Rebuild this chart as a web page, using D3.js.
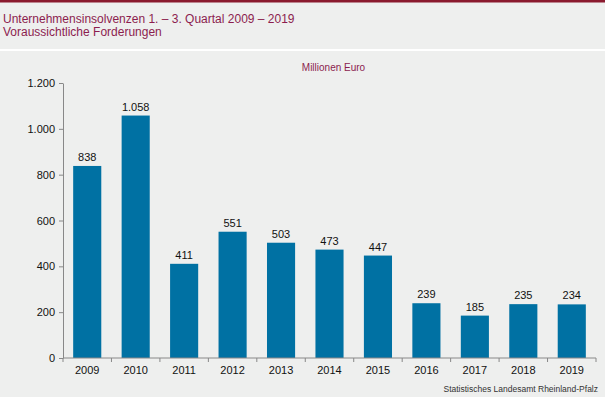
<!DOCTYPE html>
<html>
<head>
<meta charset="utf-8">
<script src="https://cdn.jsdelivr.net/npm/d3@7"></script>
<style>
  body { margin: 0; background: #eeefee; }
  svg { display: block; font-family: "Liberation Sans", Arial, sans-serif; }
</style>
</head>
<body>
<div id="chart"></div>
<script>
// ------------------------------------------
//  Data
// ------------------------------------------
const years = ['2009', '2010', '2011', '2012', '2013', '2014', '2015', '2016', '2017', '2018', '2019']
const claims = [838, 1058, 411, 551, 503, 473, 447, 239, 185, 235, 234]
const yTicks = [0, 200, 400, 600, 800, 1000, 1200]

const titleLines = ['Unternehmensinsolvenzen 1. – 3. Quartal 2009 – 2019', 'Voraussichtliche Forderungen']
const unit = 'Millionen Euro'
const source = 'Statistisches Landesamt Rheinland-Pfalz'

const fmt = d3.formatLocale({ decimal: ',', thousands: '.', grouping: [3], currency: ['', ' €'] }).format(',.0f')

// ------------------------------------------
//  Chart
// ------------------------------------------
const W = 605, H = 397
const margin = { top: 83, right: 9, bottom: 39, left: 63 }
const width = W - margin.left - margin.right
const height = H - margin.top - margin.bottom

const svg = d3.select('#chart').append('svg').attr('width', W).attr('height', H)

svg.append('rect').attr('width', W).attr('height', H).attr('fill', '#eeefee')
svg.append('rect').attr('width', W).attr('height', 2.5).attr('fill', '#8a1a2e')
svg.append('rect').attr('y', 49).attr('width', W).attr('height', 2).attr('fill', '#ffffff')

svg.selectAll('.title')
  .data(titleLines)
  .enter().append('text')
  .attr('class', 'title')
  .attr('x', 3)
  .attr('y', (d, i) => 22.5 + i * 13.5)
  .attr('font-size', 12)
  .attr('fill', '#8c1d4e')
  .text(d => d)

svg.append('text')
  .attr('x', margin.left + width / 2 + 4)
  .attr('y', 71)
  .attr('text-anchor', 'middle')
  .attr('font-size', 10)
  .attr('fill', '#8c1d4e')
  .text(unit)

svg.append('text')
  .attr('x', 598)
  .attr('y', 392)
  .attr('text-anchor', 'end')
  .attr('font-size', 8.5)
  .attr('fill', '#333')
  .text(source)

const g = svg.append('g').attr('transform', `translate(${margin.left},${margin.top})`)

const x = d3.scaleBand().domain(years).range([0, width]).paddingInner(0.42).paddingOuter(0.21)
const xb = d3.scaleBand().domain(years).range([0, width])
const y = d3.scaleLinear().domain([0, 1200]).range([height, 0])

g.selectAll('.bar')
  .data(years)
  .enter().append('rect')
  .attr('class', 'bar')
  .attr('x', d => x(d))
  .attr('width', x.bandwidth())
  .attr('y', (d, i) => y(claims[i]))
  .attr('height', (d, i) => height - y(claims[i]))
  .attr('fill', '#0071a3')

g.selectAll('.label')
  .data(years)
  .enter().append('text')
  .attr('class', 'label')
  .attr('x', d => x(d) + x.bandwidth() / 2)
  .attr('y', (d, i) => y(claims[i]) - 5)
  .attr('text-anchor', 'middle')
  .attr('font-size', 11)
  .attr('fill', '#111')
  .text((d, i) => fmt(claims[i]))

// y axis
const yAxis = g.append('g')
  .call(d3.axisLeft(y).tickValues(yTicks).tickSize(4).tickSizeOuter(0).tickFormat(fmt))
yAxis.select('.domain').attr('stroke', '#888')
yAxis.selectAll('.tick line').attr('stroke', '#888')
yAxis.selectAll('.tick text').attr('font-size', 11).attr('fill', '#111').attr('x', -8)
  .attr('font-family', '"Liberation Sans", Arial, sans-serif')

// x axis: ticks at band boundaries
const xAxisG = g.append('g').attr('transform', `translate(0,${height})`)
xAxisG.append('line').attr('x1', 0).attr('x2', width).attr('stroke', '#888')
xAxisG.selectAll('.xtick')
  .data(years.concat(['end']))
  .enter().append('line')
  .attr('class', 'xtick')
  .attr('x1', d => d === 'end' ? width : xb(d))
  .attr('x2', d => d === 'end' ? width : xb(d))
  .attr('y1', 0).attr('y2', 4)
  .attr('stroke', '#888')
xAxisG.selectAll('.xlabel')
  .data(years)
  .enter().append('text')
  .attr('class', 'xlabel')
  .attr('x', d => xb(d) + xb.bandwidth() / 2)
  .attr('y', 16)
  .attr('text-anchor', 'middle')
  .attr('font-size', 11)
  .attr('fill', '#111')
  .text(d => d)
</script>
</body>
</html>
